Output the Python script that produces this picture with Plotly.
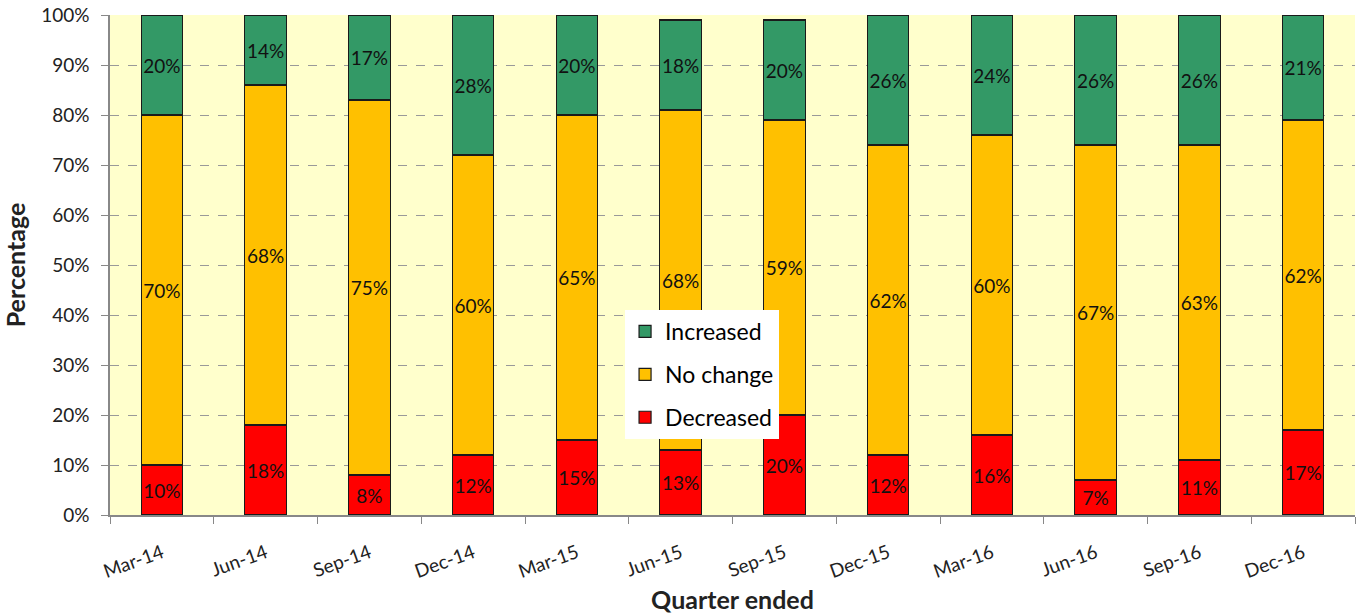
import plotly.graph_objects as go

quarters = ["Mar-14", "Jun-14", "Sep-14", "Dec-14", "Mar-15", "Jun-15",
            "Sep-15", "Dec-15", "Mar-16", "Jun-16", "Sep-16", "Dec-16"]
decreased = [10, 18, 8, 12, 15, 13, 20, 12, 16, 7, 11, 17]
no_change = [70, 68, 75, 60, 65, 68, 59, 62, 60, 67, 63, 62]
increased = [20, 14, 17, 28, 20, 18, 20, 26, 24, 26, 26, 21]

series = [("Decreased", decreased, "#FF0000", 3),
          ("No change", no_change, "#FFC000", 2),
          ("Increased", increased, "#339966", 1)]

FONT = "Lato, 'Open Sans', sans-serif"

fig = go.Figure()
for name, vals, col, rank in series:
    fig.add_trace(go.Bar(
        x=quarters, y=vals, name=name, legendgroup=name, legendrank=rank,
        marker=dict(color=col, line=dict(color="#1a1a1a", width=1.2)),
        text=[f"{v}%" for v in vals],
        textposition="inside", insidetextanchor="middle",
        textangle=0, constraintext="none",
        textfont=dict(color="#111111", size=19, family=FONT),
        width=0.4,
    ))

fig.update_layout(
    barmode="stack",
    width=1361, height=614,
    margin=dict(l=110, r=6, t=15, b=99),
    plot_bgcolor="#FFFFCC",
    paper_bgcolor="#FFFFFF",
    font=dict(family=FONT, color="#222222"),
    legend=dict(
        x=0.4137, y=0.41, xanchor="left", yanchor="top",
        bgcolor="#FFFFFF", traceorder="grouped",
        font=dict(size=23, color="#000000", family=FONT),
        tracegroupgap=10,
        borderwidth=0,
    ),
    showlegend=True,
)

fig.update_xaxes(
    type="category",
    tickson="boundaries",
    ticks="outside", ticklen=7, tickcolor="#888888",
    showline=True, linecolor="#888888", linewidth=1.5,
    tickangle=-20,
    ticklabelstandoff=18,
    tickfont=dict(size=19, color="#222222"),
    title=dict(text="<b>Quarter ended</b>", font=dict(size=25, color="#222222"), standoff=10),
    showgrid=False,
    automargin=False,
)
fig.update_yaxes(
    range=[0, 100], dtick=10, ticksuffix="%",
    ticks="outside", ticklen=7, tickcolor="#888888",
    showline=True, linecolor="#888888", linewidth=1.5,
    showgrid=True, gridcolor="#999999", griddash="dash", gridwidth=1,
    ticklabelstandoff=8,
    tickfont=dict(size=19, color="#222222"),
    title=dict(text="<b>Percentage</b>", font=dict(size=25, color="#222222"), standoff=14),
    zeroline=False,
    automargin=False,
)

fig.write_html("out.html")
